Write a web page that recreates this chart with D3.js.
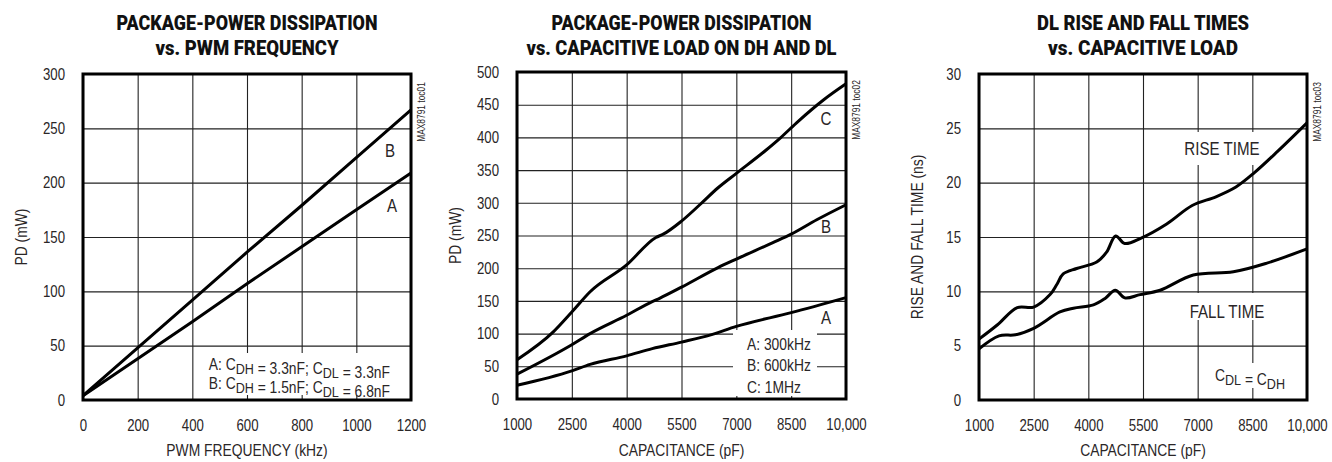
<!DOCTYPE html>
<html>
<head>
<meta charset="utf-8">
<script src="https://cdn.jsdelivr.net/npm/d3@7"></script>
<style>
  body { margin: 0; background: #fff; }
  text { font-family: "Liberation Sans", Arial, sans-serif; fill: #2a2627; }
  .title { font-family: Roboto, "Liberation Sans", sans-serif; font-weight: 900; fill: #111; }
</style>
</head>
<body>
<svg id="chart" width="1332" height="462"></svg>
<script>
// chart 1: PD vs PWM frequency
const pwmFreq = [0, 200, 400, 600, 800, 1000, 1200];
const pdA = [4, 38, 72, 107, 141, 175, 209];
const pdB = [4, 48, 92, 136, 179, 223, 267];
const freqTicks = [0, 200, 400, 600, 800, 1000, 1200];
const pd1Ticks = [0, 50, 100, 150, 200, 250, 300];

// chart 2: PD vs capacitive load
const capC = [1000, 2000, 2500, 3000, 4000, 4800, 5000, 5500, 6000, 6500, 7000, 7800, 8200, 8700, 9400, 10000];
const pdC300 = [60, 103, 133, 164, 205, 247, 252, 272, 297, 323, 345, 380, 399, 425, 458, 482];
const capB = [1000, 2500, 3000, 4000, 4700, 4900, 5500, 6500, 7000, 8000, 8500, 9200, 10000];
const pdB600 = [38, 83, 100, 128, 149, 154, 171, 201, 214, 239, 252, 274, 297];
const capA = [1000, 2500, 3000, 4000, 4700, 5500, 6300, 7000, 8500, 10000];
const pdA300 = [21, 43, 53, 66, 77, 87, 98, 111, 132, 155];
const capTicks = [1000, 2500, 4000, 5500, 7000, 8500, 10000];
const capTickLabels = ["1000", "2500", "4000", "5500", "7000", "8500", "10,000"];
const pd2Ticks = [0, 50, 100, 150, 200, 250, 300, 350, 400, 450, 500];

// chart 3: rise/fall times
const capRise = [1000, 1500, 2050, 2500, 2950, 3130, 3310, 3680, 4230, 4500, 4750, 5000, 5450, 6150, 6850, 7500, 8050, 8550, 9200, 10000];
const riseTime = [5.6, 6.9, 8.5, 8.55, 9.7, 10.6, 11.6, 12.1, 12.7, 13.6, 15.1, 14.4, 14.9, 16.2, 17.9, 18.7, 19.6, 20.9, 22.9, 25.5];
const capFall = [1000, 1550, 2000, 2500, 3220, 3590, 4140, 4460, 4740, 5000, 5420, 5970, 6880, 7980, 8900, 10000];
const fallTime = [4.7, 5.9, 6.0, 6.6, 8.1, 8.45, 8.75, 9.35, 10.1, 9.4, 9.7, 10.1, 11.5, 11.8, 12.6, 13.9];
const timeTicks = [0, 5, 10, 15, 20, 25, 30];

const svg = d3.select('#chart');
const NARROW = 0.84;      // squeeze Arial-ish glyphs towards a condensed face
const NARROW_TICK = 0.8;

// squeeze text horizontally around its anchor
function narrow(sel, k) {
  sel.each(function () {
    const t = d3.select(this);
    const x = +t.attr('x') || 0;
    const tr = t.attr('transform') || '';
    t.attr('transform', `${tr} translate(${x},0) scale(${k},1) translate(${-x},0)`);
  });
}

const panels = [
  {
    box: { left: 83, right: 411, top: 74, bottom: 400 },
    xDomain: [0, 1200], yDomain: [0, 300],
    xTicks: freqTicks, xLabels: freqTicks.map(String), yTicks: pd1Ticks,
    title: ["PACKAGE-POWER DISSIPATION", "vs. PWM FREQUENCY"], titleW: [261, 183],
    xTitle: "PWM FREQUENCY (kHz)", yTitle: "PD (mW)", tag: "MAX8791 toc01",
    series: [{ x: pwmFreq, y: pdA }, { x: pwmFreq, y: pdB }],
    curve: d3.curveLinear,
    boxes: [{ x0: 205, x1: 400, y0: 353, y1: 395 }],
    labels: [{ t: "B", x: 390, y: 157 }, { t: "A", x: 392, y: 212 }]
  },
  {
    box: { left: 517, right: 846, top: 72, bottom: 399 },
    xDomain: [1000, 10000], yDomain: [0, 500],
    xTicks: capTicks, xLabels: capTickLabels, yTicks: pd2Ticks,
    title: ["PACKAGE-POWER DISSIPATION", "vs. CAPACITIVE LOAD ON DH AND DL"], titleW: [260, 310],
    xTitle: "CAPACITANCE (pF)", yTitle: "PD (mW)", tag: "MAX8791 toc02",
    series: [{ x: capC, y: pdC300 }, { x: capB, y: pdB600 }, { x: capA, y: pdA300 }],
    curve: d3.curveMonotoneX,
    boxes: [{ x0: 733, x1: 817, y0: 330, y1: 396 }],
    labels: [{ t: "C", x: 826, y: 125 }, { t: "B", x: 826, y: 233 }, { t: "A", x: 826, y: 324 }]
  },
  {
    box: { left: 979, right: 1307, top: 74, bottom: 400 },
    xDomain: [1000, 10000], yDomain: [0, 30],
    xTicks: capTicks, xLabels: capTickLabels, yTicks: timeTicks,
    title: ["DL RISE AND FALL TIMES", "vs. CAPACITIVE LOAD"], titleW: [212, 190],
    xTitle: "CAPACITANCE (pF)", yTitle: "RISE AND FALL TIME (ns)", tag: "MAX8791 toc03",
    series: [{ x: capRise, y: riseTime }, { x: capFall, y: fallTime }],
    curve: d3.curveCatmullRom.alpha(0.5),
    boxes: [{ x0: 1183, x1: 1262, y0: 132, y1: 165 }, { x0: 1186, x1: 1268, y0: 293, y1: 320 }, { x0: 1212, x1: 1290, y0: 363, y1: 388 }],
    labels: [{ t: "RISE TIME", x: 1222, y: 155 }, { t: "FALL TIME", x: 1227, y: 318 }]
  }
];

panels.forEach(p => {
  const b = p.box;
  const x = d3.scaleLinear().domain(p.xDomain).range([b.left, b.right]);
  const y = d3.scaleLinear().domain(p.yDomain).range([b.bottom, b.top]);
  const g = svg.append('g');

  // x axis + vertical grid
  const xa = g.append('g')
    .attr('transform', `translate(0,${b.bottom})`)
    .call(d3.axisBottom(x).tickValues(p.xTicks).tickSize(-(b.bottom - b.top))
      .tickPadding(19).tickFormat((d, i) => p.xLabels[i]));
  // y axis + horizontal grid
  const ya = g.append('g')
    .attr('transform', `translate(${b.left},0)`)
    .call(d3.axisLeft(y).tickValues(p.yTicks).tickSize(-(b.right - b.left)).tickPadding(18));
  [xa, ya].forEach(a => {
    a.select('.domain').remove();
    a.selectAll('line').attr('stroke', '#222').attr('stroke-width', 1.1);
    a.selectAll('text').attr('font-size', 16.5)
      .attr('font-family', '"Liberation Sans", Arial, sans-serif')
      .attr('fill', '#2a2627')
      .call(narrow, NARROW_TICK);
  });

  // white patches behind annotations
  g.selectAll('rect.bg').data(p.boxes).join('rect')
    .attr('x', d => d.x0).attr('y', d => d.y0)
    .attr('width', d => d.x1 - d.x0).attr('height', d => d.y1 - d.y0)
    .attr('fill', '#fff');

  // curves
  const line = d3.line().x(d => x(d[0])).y(d => y(d[1])).curve(p.curve);
  p.series.forEach(s => {
    g.append('path')
      .datum(s.x.map((v, i) => [v, s.y[i]]))
      .attr('d', line)
      .attr('fill', 'none').attr('stroke', '#000').attr('stroke-width', 3)
      .attr('stroke-linejoin', 'round');
  });

  // frame
  g.append('rect')
    .attr('x', b.left).attr('y', b.top)
    .attr('width', b.right - b.left).attr('height', b.bottom - b.top)
    .attr('fill', 'none').attr('stroke', '#000').attr('stroke-width', 3);

  // titles
  const cx = (b.left + b.right) / 2;
  p.title.forEach((t, i) => {
    g.append('text').attr('class', 'title')
      .attr('x', cx).attr('y', 30 + i * 25)
      .attr('text-anchor', 'middle').attr('font-size', 20)
      .attr('textLength', p.titleW[i]).attr('lengthAdjust', 'spacingAndGlyphs')
      .text(t);
  });

  // axis titles
  g.append('text')
    .attr('x', cx).attr('y', 456)
    .attr('text-anchor', 'middle').attr('font-size', 16.5)
    .text(p.xTitle).call(narrow, NARROW);
  g.append('text')
    .attr('transform', `translate(${b.left - 56},${(b.top + b.bottom) / 2}) rotate(-90)`)
    .attr('text-anchor', 'middle').attr('font-size', 16.5)
    .text(p.yTitle).call(narrow, NARROW);

  // part tag
  g.append('text')
    .attr('transform', `translate(${b.right + 14},${b.top + 38}) rotate(-90)`)
    .attr('text-anchor', 'middle').attr('font-size', 10.5)
    .text(p.tag).call(narrow, 0.8);

  // curve labels
  g.selectAll('text.lab').data(p.labels).join('text')
    .attr('x', d => d.x).attr('y', d => d.y)
    .attr('text-anchor', 'middle').attr('font-size', 18)
    .text(d => d.t).call(narrow, NARROW);
});

// legend texts with subscripts
function subText(sel, parts) {
  parts.forEach(pt => {
    if (pt.sub) {
      sel.append('tspan').attr('dy', 4).attr('font-size', 15).text(pt.sub);
      sel.append('tspan').attr('dy', -4).text('');
    } else {
      sel.append('tspan').text(pt.t);
    }
  });
}
const legend1 = [
  [{ t: "A: C" }, { sub: "DH" }, { t: " = 3.3nF; C" }, { sub: "DL" }, { t: " = 3.3nF" }],
  [{ t: "B: C" }, { sub: "DH" }, { t: " = 1.5nF; C" }, { sub: "DL" }, { t: " = 6.8nF" }]
];
legend1.forEach((parts, i) => {
  const t = svg.append('text').attr('x', 390).attr('y', 370 + i * 19)
    .attr('text-anchor', 'end').attr('font-size', 16.5);
  subText(t, parts);
  t.call(narrow, NARROW);
});

const legend2 = ["A: 300kHz", "B: 600kHz", "C: 1MHz"];
legend2.forEach((s, i) => {
  svg.append('text').attr('x', 747).attr('y', 350 + i * 21.5)
    .attr('font-size', 16.5).text(s).call(narrow, NARROW);
});

const legend3 = [{ t: "C" }, { sub: "DL" }, { t: " = C" }, { sub: "DH" }];
const l3 = svg.append('text').attr('x', 1250).attr('y', 381)
  .attr('text-anchor', 'middle').attr('font-size', 16.5);
subText(l3, legend3);
l3.call(narrow, NARROW);
</script>
</body>
</html>
